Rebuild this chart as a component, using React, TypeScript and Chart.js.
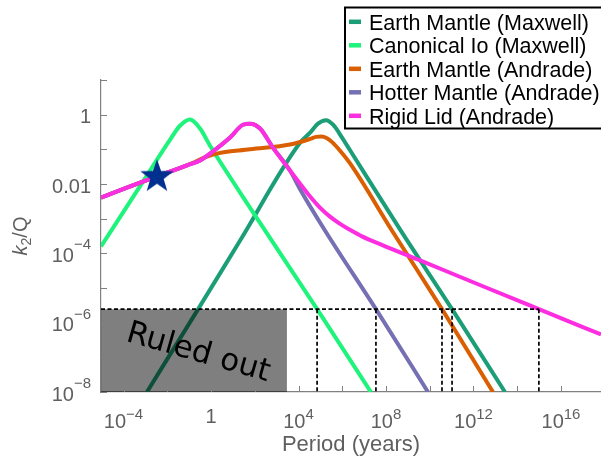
import React, { useEffect, useRef } from "react";
import { Chart, registerables } from "chart.js";

Chart.register(...registerables);

// All values are log10: x = log10(period / years), y = log10(k2/Q)
const X_MIN = -5.03;
const X_MAX = 17.83;
const Y_MIN = -8;
const Y_MAX = 1;

const xTickExps = [-4, -2, 0, 2, 4, 6, 8, 10, 12, 14, 16];
const xLabelExps = [-4, 0, 4, 8, 12, 16];
const yTickExps = [-8, -7, -6, -5, -4, -3, -2, -1, 0, 1];
const yLabelExps = [-8, -6, -4, -2, 0];

const seriesLabels = [
  "Earth Mantle (Maxwell)",
  "Canonical Io (Maxwell)",
  "Earth Mantle (Andrade)",
  "Hotter Mantle (Andrade)",
  "Rigid Lid (Andrade)",
];
const seriesColors = ["#1b9e77", "#1ef47b", "#d95f02", "#7570b3", "#fc2ee0"];

const earthMaxwellPeriod = [-2.93, -0.59, 1.33, 4.07, 4.53, 4.89, 5.26, 5.58, 5.99, 6.35, 8.64, 11.02, 13.44];
const earthMaxwellK = [-8.0, -5.61, -3.63, -0.81, -0.52, -0.26, -0.16, -0.29, -0.66, -1.02, -3.31, -5.61, -8.0];

const ioPeriod = [-5.03, -3.11, -1.87, -1.42, -0.96, -0.5, -0.05, 1.78, 4.85, 7.31];
const ioK = [-3.8, -1.93, -0.72, -0.32, -0.14, -0.4, -0.89, -2.68, -5.61, -8.0];

const earthAndradePeriod = [-5.03, -2.47, -1.1, 0.09, 1.78, 3.61, 4.53, 4.8, 5.05, 5.3, 5.55, 5.9, 6.35, 8.27, 10.56, 12.89];
const earthAndradeK = [-2.39, -1.78, -1.46, -1.15, -1.0, -0.86, -0.7, -0.64, -0.63, -0.68, -0.8, -1.04, -1.4, -3.34, -5.61, -8.0];

const hotterPeriod = [-5.03, -3.7, -2.47, -1.1, -0.5, 0.09, 0.87, 1.46, 1.78, 2.24, 2.83, 3.61, 4.07, 5.21, 7.54, 9.92];
const hotterK = [-2.39, -2.07, -1.78, -1.46, -1.32, -1.06, -0.66, -0.29, -0.26, -0.4, -0.95, -1.61, -2.15, -3.34, -5.61, -8.0];

const rigidPeriod = [-5.03, -3.7, -2.47, -1.1, -0.5, 0.09, 0.87, 1.46, 1.78, 2.24, 2.83, 3.61, 4.07, 4.53, 4.98, 5.44, 5.9, 6.35, 6.9, 7.86, 9.42, 10.93, 12.43, 14.99, 17.83];
const rigidK = [-2.39, -2.07, -1.78, -1.46, -1.32, -1.06, -0.66, -0.29, -0.26, -0.4, -0.95, -1.61, -1.99, -2.36, -2.68, -2.94, -3.15, -3.32, -3.51, -3.77, -4.17, -4.56, -4.95, -5.61, -6.34];

// detection threshold and crossing periods
const thresholdK = -5.61;
const crossingPeriods = [4.85, 7.54, 10.56, 11.02, 14.99];
const ruledOutMaxPeriod = 3.47;

// Io observed point
const starPeriod = [-2.47];
const starK = [-1.79];

const AXIS_COLOR = "#808080";
const LABEL_COLOR = "#5f5f5f";
const SANS = '"Liberation Sans", Arial, sans-serif';

const pts = (xs: number[], ys: number[]) => xs.map((x, i) => ({ x, y: ys[i] }));

function makeStar(): HTMLCanvasElement {
  const c = document.createElement("canvas");
  c.width = 40;
  c.height = 40;
  const g = c.getContext("2d")!;
  const R = 17.5, r = 7.0;
  g.beginPath();
  for (let i = 0; i < 10; i++) {
    const ang = -Math.PI / 2 + (i * Math.PI) / 5;
    const rad = i % 2 === 0 ? R : r;
    const px = 20 + rad * Math.cos(ang);
    const py = 20 + rad * Math.sin(ang);
    if (i === 0) g.moveTo(px, py);
    else g.lineTo(px, py);
  }
  g.closePath();
  g.fillStyle = "#00308f";
  g.fill();
  return c;
}

const decor = {
  id: "decor",
  afterDraw(chart: any) {
    const { ctx, chartArea: a, scales } = chart;
    const xs = scales.x;
    const ys = scales.y;
    ctx.save();

    // inward tick marks
    ctx.strokeStyle = AXIS_COLOR;
    ctx.lineWidth = 1;
    ctx.beginPath();
    xTickExps.forEach((v) => {
      const p = Math.round(xs.getPixelForValue(v)) + 0.5;
      ctx.moveTo(p, a.bottom);
      ctx.lineTo(p, a.bottom - 6);
    });
    yTickExps.forEach((v) => {
      const p = Math.round(ys.getPixelForValue(v)) + 0.5;
      ctx.moveTo(a.left, p);
      ctx.lineTo(a.left + 6, p);
    });
    ctx.stroke();

    const big = "20px " + SANS;
    const small = "15px " + SANS;
    ctx.fillStyle = LABEL_COLOR;
    ctx.textBaseline = "alphabetic";

    // x tick labels
    xLabelExps.forEach((e) => {
      const px = xs.getPixelForValue(e);
      if (e === 0) {
        ctx.font = big;
        ctx.textAlign = "center";
        ctx.fillText("1", px, a.bottom + 31);
        return;
      }
      const exp = e < 0 ? "\u2212" + -e : String(e);
      ctx.font = big;
      const wb = ctx.measureText("10").width;
      ctx.font = small;
      const we = ctx.measureText(exp).width;
      const left = px - (wb + we) / 2;
      ctx.textAlign = "left";
      ctx.font = big;
      ctx.fillText("10", left, a.bottom + 36);
      ctx.font = small;
      ctx.fillText(exp, left + wb, a.bottom + 27);
    });

    // y tick labels
    yLabelExps.forEach((e) => {
      const py = ys.getPixelForValue(e);
      const right = a.left - 10;
      if (e === 0 || e === -2) {
        ctx.font = big;
        ctx.textAlign = "right";
        ctx.fillText(e === 0 ? "1" : "0.01", right, py + 8.5);
        return;
      }
      const exp = "\u2212" + -e;
      ctx.font = small;
      const we = ctx.measureText(exp).width;
      ctx.textAlign = "right";
      ctx.fillText(exp, right, py - 4);
      ctx.font = big;
      ctx.fillText("10", right - we, py + 8.5);
    });

    // axis titles
    ctx.font = "22px " + SANS;
    ctx.textAlign = "center";
    ctx.fillText("Period (years)", 351, 451);

    ctx.save();
    ctx.translate(27, (a.top + a.bottom) / 2);
    ctx.rotate(-Math.PI / 2);
    const kFont = "italic 20px " + SANS;
    ctx.font = kFont;
    const wk = ctx.measureText("k").width;
    ctx.font = "14px " + SANS;
    const w2 = ctx.measureText("2").width;
    ctx.font = big;
    const wq = ctx.measureText("/Q").width;
    const start = -(wk + w2 + wq) / 2;
    ctx.textAlign = "left";
    ctx.font = kFont;
    ctx.fillText("k", start, 0);
    ctx.font = "14px " + SANS;
    ctx.fillText("2", start + wk, 4);
    ctx.font = big;
    ctx.fillText("/Q", start + wk + w2, 0);
    ctx.restore();

    // "Ruled out" label
    ctx.save();
    ctx.translate(196, 361);
    ctx.rotate((16 * Math.PI) / 180);
    ctx.font = '31px "DejaVu Sans", sans-serif';
    ctx.fillStyle = "#000";
    ctx.textAlign = "center";
    ctx.fillText("Ruled out", 0, 0);
    ctx.restore();

    // legend
    const lx = 345, ly = 7.5, lw = 300, lh = 121;
    ctx.fillStyle = "#fff";
    ctx.fillRect(lx, ly, lw, lh);
    ctx.strokeStyle = "#000";
    ctx.lineWidth = 2;
    ctx.strokeRect(lx, ly, lw, lh);
    ctx.font = "21.5px " + SANS;
    ctx.textAlign = "left";
    seriesLabels.forEach((lab, i) => {
      const cy = 21.8 + i * 23.5;
      ctx.strokeStyle = seriesColors[i];
      ctx.lineWidth = 4.5;
      ctx.beginPath();
      ctx.moveTo(349, cy);
      ctx.lineTo(361, cy);
      ctx.stroke();
      ctx.fillStyle = "#000";
      ctx.fillText(lab, 369, cy + 7.7);
    });

    ctx.restore();
  },
};

export default function App() {
  const ref = useRef<HTMLCanvasElement | null>(null);

  useEffect(() => {
    const canvas = ref.current;
    if (!canvas) return;
    const star = makeStar();
    const curve = (label: string, color: string, xs: number[], ys: number[], order: number) => ({
      label,
      data: pts(xs, ys),
      borderColor: color,
      backgroundColor: color,
      borderWidth: 4,
      pointRadius: 0,
      cubicInterpolationMode: "monotone",
      fill: false,
      clip: 0,
      order,
    });
    const dashed = (xs: number[], ys: number[]) => ({
      label: "",
      data: pts(xs, ys),
      borderColor: "#000",
      borderWidth: 1.7,
      borderDash: [4, 2.5],
      pointRadius: 0,
      fill: false,
      order: 3,
    });

    const datasets: any[] = [
      curve(seriesLabels[0], seriesColors[0], earthMaxwellPeriod, earthMaxwellK, 10),
      curve(seriesLabels[1], seriesColors[1], ioPeriod, ioK, 9),
      curve(seriesLabels[2], seriesColors[2], earthAndradePeriod, earthAndradeK, 8),
      curve(seriesLabels[3], seriesColors[3], hotterPeriod, hotterK, 7),
      curve(seriesLabels[4], seriesColors[4], rigidPeriod, rigidK, 6),
      {
        label: "Ruled out",
        data: pts([X_MIN, ruledOutMaxPeriod], [thresholdK, thresholdK]),
        borderWidth: 0,
        borderColor: "rgba(0,0,0,0)",
        backgroundColor: "rgba(0,0,0,0.5)",
        pointRadius: 0,
        fill: { value: Y_MIN },
        order: 5,
      },
      dashed([X_MIN, crossingPeriods[crossingPeriods.length - 1]], [thresholdK, thresholdK]),
      ...crossingPeriods.map((p) => dashed([p, p], [thresholdK, Y_MIN])),
      {
        label: "Io",
        data: pts(starPeriod, starK),
        showLine: false,
        pointStyle: star,
        pointRadius: 10,
        order: 0,
      },
    ];

    const chart = new Chart(canvas, {
      type: "line",
      data: { datasets },
      options: {
        animation: false,
        responsive: false,
        devicePixelRatio: 1,
        events: [],
        layout: { autoPadding: false, padding: { left: 0, top: 80, right: 0, bottom: 0 } },
        plugins: {
          legend: { display: false },
          tooltip: { enabled: false },
        },
        scales: {
          x: {
            type: "linear",
            min: X_MIN,
            max: X_MAX,
            grid: { display: false },
            border: { display: true, color: AXIS_COLOR, width: 1.2 },
            ticks: { display: false },
            afterBuildTicks: (s: any) => {
              s.ticks = xTickExps.map((v) => ({ value: v }));
            },
            afterFit: (s: any) => {
              s.height = 71;
            },
          },
          y: {
            type: "linear",
            min: Y_MIN,
            max: Y_MAX,
            grid: { display: false },
            border: { display: true, color: AXIS_COLOR, width: 1.2 },
            ticks: { display: false },
            afterBuildTicks: (s: any) => {
              s.ticks = yTickExps.map((v) => ({ value: v }));
            },
            afterFit: (s: any) => {
              s.width = 101;
            },
          },
        },
      } as any,
      plugins: [decor],
    });
    return () => chart.destroy();
  }, []);

  return (
    <div style={{ position: "absolute", left: 0, top: 0, width: 601, height: 463, background: "#fff" }}>
      <canvas ref={ref} width={601} height={463} style={{ display: "block" }} />
    </div>
  );
}
